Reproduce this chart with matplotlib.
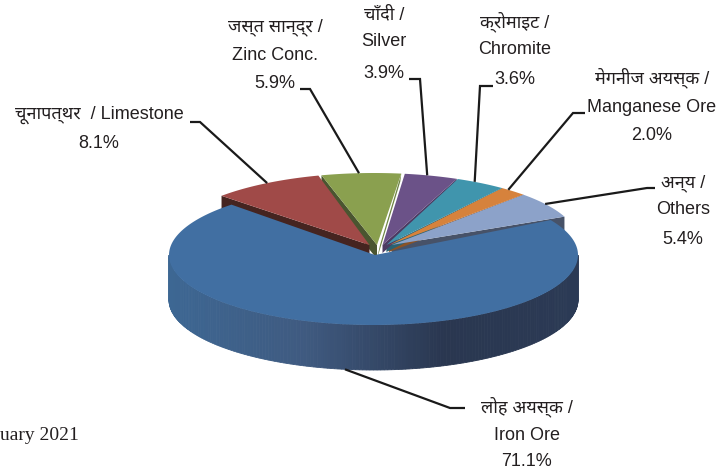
import numpy as np
import matplotlib
matplotlib.use("Agg")
import matplotlib.pyplot as plt
from matplotlib.colors import LinearSegmentedColormap
from matplotlib.patches import Polygon

# data, starting with the big slice
HINDI = ["लोह अयस्क /", "अन्य /", "मेगनीज अयस्क /", "क्रोमाइट /", "चाँदी /", "जस्त सान्द्र /", "चूनापत्थर  /"]
ENGLISH = ["Iron Ore", "Others", "Manganese Ore", "Chromite", "Silver", "Zinc Conc.", "Limestone"]
SHARES = [71.1, 5.4, 2.0, 3.6, 3.9, 5.9, 8.1]

TOP_COLORS = ["#416FA2", "#8CA2C9", "#D6823C", "#4095AD", "#6B5288", "#8AA04F", "#A04A48"]
WALL_COLORS = ["#2B3A55", "#475268", "#8A5226", "#2A6272", "#4C3A62", "#4A5530", "#452420"]
SIDE_COLORS = [None, None, None, None, None, "#6F8544", None]
WALL_DROP = [0, 32, 7, 7, 8, 14, 18]
WEDGE_PAD = [0, 0, 0, 0, 0.3, 0.7, 0.2]

# pie geometry in image pixels
CX, CY, RX, RY, DEPTH = 373.5, 255, 204.5, 70, 45
RIM_CX, RIM_CY, RIM_RX, RIM_RY = 374, 241, 204, 68
TIP_X, TIP_Y, TIP_SPREAD = 378, 245, 16
BIG_START = 134
SMALL_START = 21
SMALL_STRETCH = 1.13

# label block: x of centre, y of each line, leader start and elbow, nudge of its end on the rim
TEXT_X = [527, 683, 652, 515, 384, 275, 99]
TEXT_Y = [(407, 435, 462), (183, 210, 239), (78, 107, 136), (22, 50, 80),
          (15, 42, 73), (27, 55, 84), (115, 115, 144)]
LEADER_START = [(465, 408), (655, 188), (585, 113), (493, 86), (409, 79), (300, 89), (190, 122)]
LEADER_ELBOW = [(450, 408), (647, 188), (573, 113), (480, 86), (420, 79), (310, 89), (200, 122)]
LEADER_NUDGE = [0, 1, 1.8, 2, 1.2, 0.6, -0.5]

FONT = ["Liberation Sans Narrow", "Liberation Sans", "Noto Sans", "DejaVu Sans"]
TEXT_COLOR = "#231F20"
FONT_SIZE = 13


def arc(cx, cy, rx, ry, a0, a1, n=80):
    t = np.radians(np.linspace(a0, a1, n))
    return np.column_stack([cx + rx * np.cos(t), cy - ry * np.sin(t)])


fig = plt.figure(figsize=(7.2, 4.75), dpi=100)
ax = fig.add_axes([0, 0, 1, 1])
ax.set_xlim(0, 720)
ax.set_ylim(475, 0)
ax.axis("off")

# small slices at the back
start = SMALL_START
mids = [0.0] * len(SHARES)
for i in range(1, len(SHARES)):
    span = SHARES[i] * 3.6 * SMALL_STRETCH
    a0, a1 = start + WEDGE_PAD[i], start + span - WEDGE_PAD[i]
    mid = (a0 + a1) / 2
    mids[i] = mid
    tip = np.array([TIP_X + TIP_SPREAD * np.cos(np.radians(mid)), TIP_Y])
    rim = arc(RIM_CX, RIM_CY, RIM_RX, RIM_RY, a0, a1)
    drop = np.array([0, WALL_DROP[i]])
    # zinc and limestone show their wall on the left edge, the rest on the right
    edge = rim[-1] if i >= 5 else rim[0]
    z = 2 + i * 0.01
    ax.add_patch(Polygon([edge, tip, tip + drop, edge + drop], fc=WALL_COLORS[i], ec="none", zorder=z))
    if SIDE_COLORS[i]:
        ax.add_patch(Polygon([rim[0], rim[0] + [-1, 8], tip + drop, tip + [3, 0]], fc=SIDE_COLORS[i], ec="none", zorder=z + 1.5))
    ax.add_patch(Polygon(np.vstack([tip, rim]), fc=TOP_COLORS[i], ec="none", zorder=z + 1))
    start += span

# big slice: wall with shading, then top face
mids[0] = BIG_START + SHARES[0] * 3.6 / 2
shade = LinearSegmentedColormap.from_list("wall", ["#3D6793", "#3F5A80", "#2A3750", "#2B3A55"])
edges = np.linspace(180, 360, 181)
for a0, a1 in zip(edges[:-1], edges[1:]):
    seg = arc(CX, CY, RX, RY, a0, a1, 4)
    u = (seg[0, 0] - (CX - RX)) / (2 * RX)
    color = shade(u)
    ax.add_patch(Polygon(np.vstack([seg, seg[::-1] + [0, DEPTH]]), fc=color, ec=color, lw=0.6, zorder=5))

big_end = BIG_START + SHARES[0] * 3.6
face = arc(CX, CY, RX, RY, BIG_START, big_end, 200)
ax.add_patch(Polygon(np.vstack([[CX + 1.5, CY], face]), fc=TOP_COLORS[0], ec="none", zorder=6))

# leaders and labels
for i in range(len(SHARES)):
    a = mids[i] + LEADER_NUDGE[i]
    if i == 0:
        end = arc(CX, CY + DEPTH, RX, RY, a, a, 1)[0]
    else:
        end = arc(RIM_CX, RIM_CY, RIM_RX, RIM_RY, a, a, 1)[0]
    pts = np.array([LEADER_START[i], LEADER_ELBOW[i], end])
    ax.plot(pts[:, 0], pts[:, 1], color="#1A1A1A", lw=1.6, zorder=7, solid_capstyle="butt", solid_joinstyle="miter")

    y1, y2, y3 = TEXT_Y[i]
    if y1 == y2:
        ax.text(TEXT_X[i], y1, HINDI[i] + " " + ENGLISH[i], ha="center", va="center", fontsize=FONT_SIZE, family=FONT, color=TEXT_COLOR)
    else:
        ax.text(TEXT_X[i], y1, HINDI[i], ha="center", va="center", fontsize=FONT_SIZE, family=FONT, color=TEXT_COLOR)
        ax.text(TEXT_X[i], y2, ENGLISH[i], ha="center", va="center", fontsize=FONT_SIZE, family=FONT, color=TEXT_COLOR)
    ax.text(TEXT_X[i], y3, f"{SHARES[i]:.1f}%", ha="center", va="center", fontsize=FONT_SIZE, family=FONT, color=TEXT_COLOR)

ax.text(0, 436, "uary 2021", ha="left", va="center", fontsize=14, family="Liberation Serif", color=TEXT_COLOR)

fig.savefig("out.png", dpi=100)
